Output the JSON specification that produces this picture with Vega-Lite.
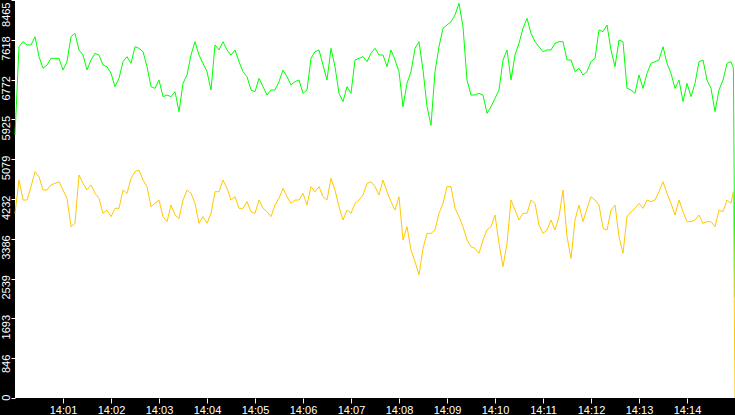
{
  "$schema": "https://vega.github.io/schema/vega-lite/v6.json",
  "width": 720,
  "height": 398,
  "autosize": {"type": "none"},
  "padding": {"left": 15, "top": 0, "right": 0, "bottom": 17},
  "background": "black",
  "config": {
    "view": {"fill": "white", "stroke": null},
    "axis": {
      "title": null,
      "grid": false,
      "domain": false,
      "tickColor": "white",
      "tickWidth": 1,
      "labelColor": "white",
      "labelFont": "Liberation Sans",
      "labelFontSize": 11,
      "labelFlush": false,
      "labelBound": false,
      "labelOverlap": false
    }
  },
  "data": {
    "values": [
      {"t": "2024-01-01T14:00:00", "green": 5600, "yellow": 3927},
      {"t": "2024-01-01T14:00:05", "green": 7472, "yellow": 4636},
      {"t": "2024-01-01T14:00:10", "green": 7579, "yellow": 4211},
      {"t": "2024-01-01T14:00:15", "green": 7508, "yellow": 4211},
      {"t": "2024-01-01T14:00:20", "green": 7508, "yellow": 4495},
      {"t": "2024-01-01T14:00:25", "green": 7685, "yellow": 4814},
      {"t": "2024-01-01T14:00:30", "green": 7260, "yellow": 4707},
      {"t": "2024-01-01T14:00:35", "green": 7012, "yellow": 4424},
      {"t": "2024-01-01T14:00:40", "green": 7082, "yellow": 4424},
      {"t": "2024-01-01T14:00:45", "green": 7224, "yellow": 4530},
      {"t": "2024-01-01T14:00:50", "green": 7224, "yellow": 4566},
      {"t": "2024-01-01T14:00:55", "green": 7224, "yellow": 4601},
      {"t": "2024-01-01T14:01:00", "green": 6976, "yellow": 4424},
      {"t": "2024-01-01T14:01:05", "green": 7153, "yellow": 4246},
      {"t": "2024-01-01T14:01:10", "green": 7685, "yellow": 3644},
      {"t": "2024-01-01T14:01:15", "green": 7756, "yellow": 3715},
      {"t": "2024-01-01T14:01:20", "green": 7402, "yellow": 4743},
      {"t": "2024-01-01T14:01:25", "green": 7295, "yellow": 4566},
      {"t": "2024-01-01T14:01:30", "green": 6976, "yellow": 4424},
      {"t": "2024-01-01T14:01:35", "green": 7189, "yellow": 4530},
      {"t": "2024-01-01T14:01:40", "green": 7331, "yellow": 4353},
      {"t": "2024-01-01T14:01:45", "green": 7295, "yellow": 4246},
      {"t": "2024-01-01T14:01:50", "green": 7082, "yellow": 3927},
      {"t": "2024-01-01T14:01:55", "green": 7047, "yellow": 3998},
      {"t": "2024-01-01T14:02:00", "green": 6905, "yellow": 3857},
      {"t": "2024-01-01T14:02:05", "green": 6622, "yellow": 4034},
      {"t": "2024-01-01T14:02:10", "green": 6799, "yellow": 4034},
      {"t": "2024-01-01T14:02:15", "green": 7153, "yellow": 4424},
      {"t": "2024-01-01T14:02:20", "green": 7260, "yellow": 4353},
      {"t": "2024-01-01T14:02:25", "green": 7118, "yellow": 4672},
      {"t": "2024-01-01T14:02:30", "green": 7472, "yellow": 4814},
      {"t": "2024-01-01T14:02:35", "green": 7437, "yellow": 4849},
      {"t": "2024-01-01T14:02:40", "green": 7366, "yellow": 4636},
      {"t": "2024-01-01T14:02:45", "green": 7047, "yellow": 4495},
      {"t": "2024-01-01T14:02:50", "green": 6622, "yellow": 4069},
      {"t": "2024-01-01T14:02:55", "green": 6586, "yellow": 4140},
      {"t": "2024-01-01T14:03:00", "green": 6763, "yellow": 4211},
      {"t": "2024-01-01T14:03:05", "green": 6409, "yellow": 3857},
      {"t": "2024-01-01T14:03:10", "green": 6444, "yellow": 3750},
      {"t": "2024-01-01T14:03:15", "green": 6409, "yellow": 4105},
      {"t": "2024-01-01T14:03:20", "green": 6515, "yellow": 3892},
      {"t": "2024-01-01T14:03:25", "green": 6090, "yellow": 3821},
      {"t": "2024-01-01T14:03:30", "green": 6692, "yellow": 4211},
      {"t": "2024-01-01T14:03:35", "green": 6870, "yellow": 4424},
      {"t": "2024-01-01T14:03:40", "green": 7295, "yellow": 4353},
      {"t": "2024-01-01T14:03:45", "green": 7579, "yellow": 4140},
      {"t": "2024-01-01T14:03:50", "green": 7295, "yellow": 3715},
      {"t": "2024-01-01T14:03:55", "green": 7118, "yellow": 3857},
      {"t": "2024-01-01T14:04:00", "green": 6941, "yellow": 3715},
      {"t": "2024-01-01T14:04:05", "green": 6551, "yellow": 3927},
      {"t": "2024-01-01T14:04:10", "green": 7508, "yellow": 4388},
      {"t": "2024-01-01T14:04:15", "green": 7402, "yellow": 4388},
      {"t": "2024-01-01T14:04:20", "green": 7579, "yellow": 4636},
      {"t": "2024-01-01T14:04:25", "green": 7402, "yellow": 4459},
      {"t": "2024-01-01T14:04:30", "green": 7295, "yellow": 4211},
      {"t": "2024-01-01T14:04:35", "green": 7402, "yellow": 4282},
      {"t": "2024-01-01T14:04:40", "green": 7153, "yellow": 4034},
      {"t": "2024-01-01T14:04:45", "green": 6941, "yellow": 4034},
      {"t": "2024-01-01T14:04:50", "green": 6834, "yellow": 4176},
      {"t": "2024-01-01T14:04:55", "green": 6551, "yellow": 3963},
      {"t": "2024-01-01T14:05:00", "green": 6515, "yellow": 3927},
      {"t": "2024-01-01T14:05:05", "green": 6799, "yellow": 4211},
      {"t": "2024-01-01T14:05:10", "green": 6622, "yellow": 4034},
      {"t": "2024-01-01T14:05:15", "green": 6444, "yellow": 3963},
      {"t": "2024-01-01T14:05:20", "green": 6551, "yellow": 3857},
      {"t": "2024-01-01T14:05:25", "green": 6551, "yellow": 4105},
      {"t": "2024-01-01T14:05:30", "green": 6728, "yellow": 4246},
      {"t": "2024-01-01T14:05:35", "green": 6976, "yellow": 4459},
      {"t": "2024-01-01T14:05:40", "green": 6834, "yellow": 4282},
      {"t": "2024-01-01T14:05:45", "green": 6657, "yellow": 4140},
      {"t": "2024-01-01T14:05:50", "green": 6728, "yellow": 4211},
      {"t": "2024-01-01T14:05:55", "green": 6763, "yellow": 4211},
      {"t": "2024-01-01T14:06:00", "green": 6480, "yellow": 4353},
      {"t": "2024-01-01T14:06:05", "green": 6551, "yellow": 4105},
      {"t": "2024-01-01T14:06:10", "green": 7224, "yellow": 4495},
      {"t": "2024-01-01T14:06:15", "green": 7366, "yellow": 4388},
      {"t": "2024-01-01T14:06:20", "green": 7402, "yellow": 4495},
      {"t": "2024-01-01T14:06:25", "green": 7082, "yellow": 4282},
      {"t": "2024-01-01T14:06:30", "green": 6763, "yellow": 4211},
      {"t": "2024-01-01T14:06:35", "green": 7437, "yellow": 4672},
      {"t": "2024-01-01T14:06:40", "green": 7047, "yellow": 4424},
      {"t": "2024-01-01T14:06:45", "green": 6480, "yellow": 4069},
      {"t": "2024-01-01T14:06:50", "green": 6303, "yellow": 3786},
      {"t": "2024-01-01T14:06:55", "green": 6622, "yellow": 3998},
      {"t": "2024-01-01T14:07:00", "green": 6480, "yellow": 3927},
      {"t": "2024-01-01T14:07:05", "green": 7189, "yellow": 4140},
      {"t": "2024-01-01T14:07:10", "green": 7224, "yellow": 4211},
      {"t": "2024-01-01T14:07:15", "green": 7260, "yellow": 4317},
      {"t": "2024-01-01T14:07:20", "green": 7153, "yellow": 4566},
      {"t": "2024-01-01T14:07:25", "green": 7331, "yellow": 4601},
      {"t": "2024-01-01T14:07:30", "green": 7437, "yellow": 4495},
      {"t": "2024-01-01T14:07:35", "green": 7295, "yellow": 4317},
      {"t": "2024-01-01T14:07:40", "green": 7295, "yellow": 4636},
      {"t": "2024-01-01T14:07:45", "green": 7047, "yellow": 4388},
      {"t": "2024-01-01T14:07:50", "green": 7402, "yellow": 4176},
      {"t": "2024-01-01T14:07:55", "green": 7189, "yellow": 3998},
      {"t": "2024-01-01T14:08:00", "green": 6941, "yellow": 4282},
      {"t": "2024-01-01T14:08:05", "green": 6196, "yellow": 3360},
      {"t": "2024-01-01T14:08:10", "green": 6692, "yellow": 3644},
      {"t": "2024-01-01T14:08:15", "green": 6941, "yellow": 3148},
      {"t": "2024-01-01T14:08:20", "green": 7437, "yellow": 2900},
      {"t": "2024-01-01T14:08:25", "green": 7579, "yellow": 2620},
      {"t": "2024-01-01T14:08:30", "green": 6976, "yellow": 3183},
      {"t": "2024-01-01T14:08:35", "green": 6200, "yellow": 3502},
      {"t": "2024-01-01T14:08:40", "green": 5800, "yellow": 3502},
      {"t": "2024-01-01T14:08:45", "green": 6941, "yellow": 3573},
      {"t": "2024-01-01T14:08:50", "green": 7472, "yellow": 3927},
      {"t": "2024-01-01T14:08:55", "green": 7862, "yellow": 4140},
      {"t": "2024-01-01T14:09:00", "green": 7933, "yellow": 4495},
      {"t": "2024-01-01T14:09:05", "green": 8004, "yellow": 4495},
      {"t": "2024-01-01T14:09:10", "green": 8146, "yellow": 4034},
      {"t": "2024-01-01T14:09:15", "green": 8394, "yellow": 3857},
      {"t": "2024-01-01T14:09:20", "green": 7898, "yellow": 3644},
      {"t": "2024-01-01T14:09:25", "green": 6763, "yellow": 3360},
      {"t": "2024-01-01T14:09:30", "green": 6444, "yellow": 3218},
      {"t": "2024-01-01T14:09:35", "green": 6444, "yellow": 3183},
      {"t": "2024-01-01T14:09:40", "green": 6480, "yellow": 3077},
      {"t": "2024-01-01T14:09:45", "green": 6444, "yellow": 3360},
      {"t": "2024-01-01T14:09:50", "green": 6054, "yellow": 3573},
      {"t": "2024-01-01T14:09:55", "green": 6196, "yellow": 3644},
      {"t": "2024-01-01T14:10:00", "green": 6373, "yellow": 3892},
      {"t": "2024-01-01T14:10:05", "green": 6551, "yellow": 3289},
      {"t": "2024-01-01T14:10:10", "green": 7189, "yellow": 2793},
      {"t": "2024-01-01T14:10:15", "green": 7402, "yellow": 3289},
      {"t": "2024-01-01T14:10:20", "green": 6763, "yellow": 4211},
      {"t": "2024-01-01T14:10:25", "green": 7295, "yellow": 3998},
      {"t": "2024-01-01T14:10:30", "green": 7543, "yellow": 3786},
      {"t": "2024-01-01T14:10:35", "green": 7862, "yellow": 3927},
      {"t": "2024-01-01T14:10:40", "green": 8075, "yellow": 3927},
      {"t": "2024-01-01T14:10:45", "green": 7756, "yellow": 4211},
      {"t": "2024-01-01T14:10:50", "green": 7579, "yellow": 4140},
      {"t": "2024-01-01T14:10:55", "green": 7472, "yellow": 3679},
      {"t": "2024-01-01T14:11:00", "green": 7366, "yellow": 3502},
      {"t": "2024-01-01T14:11:05", "green": 7402, "yellow": 3573},
      {"t": "2024-01-01T14:11:10", "green": 7402, "yellow": 3786},
      {"t": "2024-01-01T14:11:15", "green": 7543, "yellow": 3573},
      {"t": "2024-01-01T14:11:20", "green": 7579, "yellow": 3857},
      {"t": "2024-01-01T14:11:25", "green": 7579, "yellow": 4424},
      {"t": "2024-01-01T14:11:30", "green": 7189, "yellow": 3431},
      {"t": "2024-01-01T14:11:35", "green": 7189, "yellow": 2970},
      {"t": "2024-01-01T14:11:40", "green": 6941, "yellow": 3786},
      {"t": "2024-01-01T14:11:45", "green": 7012, "yellow": 4105},
      {"t": "2024-01-01T14:11:50", "green": 6870, "yellow": 3750},
      {"t": "2024-01-01T14:11:55", "green": 6941, "yellow": 4034},
      {"t": "2024-01-01T14:12:00", "green": 7153, "yellow": 4282},
      {"t": "2024-01-01T14:12:05", "green": 7224, "yellow": 4211},
      {"t": "2024-01-01T14:12:10", "green": 7827, "yellow": 4105},
      {"t": "2024-01-01T14:12:15", "green": 7792, "yellow": 3608},
      {"t": "2024-01-01T14:12:20", "green": 7933, "yellow": 3573},
      {"t": "2024-01-01T14:12:25", "green": 7402, "yellow": 3998},
      {"t": "2024-01-01T14:12:30", "green": 7047, "yellow": 4105},
      {"t": "2024-01-01T14:12:35", "green": 7614, "yellow": 3431},
      {"t": "2024-01-01T14:12:40", "green": 7579, "yellow": 3077},
      {"t": "2024-01-01T14:12:45", "green": 6586, "yellow": 3857},
      {"t": "2024-01-01T14:12:50", "green": 6551, "yellow": 3963},
      {"t": "2024-01-01T14:12:55", "green": 6480, "yellow": 4034},
      {"t": "2024-01-01T14:13:00", "green": 6870, "yellow": 4140},
      {"t": "2024-01-01T14:13:05", "green": 6586, "yellow": 4034},
      {"t": "2024-01-01T14:13:10", "green": 6905, "yellow": 4211},
      {"t": "2024-01-01T14:13:15", "green": 7118, "yellow": 4176},
      {"t": "2024-01-01T14:13:20", "green": 7153, "yellow": 4211},
      {"t": "2024-01-01T14:13:25", "green": 7189, "yellow": 4388},
      {"t": "2024-01-01T14:13:30", "green": 7472, "yellow": 4601},
      {"t": "2024-01-01T14:13:35", "green": 7118, "yellow": 4353},
      {"t": "2024-01-01T14:13:40", "green": 6905, "yellow": 4140},
      {"t": "2024-01-01T14:13:45", "green": 6586, "yellow": 3892},
      {"t": "2024-01-01T14:13:50", "green": 6763, "yellow": 4211},
      {"t": "2024-01-01T14:13:55", "green": 6303, "yellow": 3963},
      {"t": "2024-01-01T14:14:00", "green": 6692, "yellow": 3750},
      {"t": "2024-01-01T14:14:05", "green": 6409, "yellow": 3750},
      {"t": "2024-01-01T14:14:10", "green": 6692, "yellow": 3786},
      {"t": "2024-01-01T14:14:15", "green": 7153, "yellow": 3892},
      {"t": "2024-01-01T14:14:20", "green": 7189, "yellow": 3715},
      {"t": "2024-01-01T14:14:25", "green": 6763, "yellow": 3750},
      {"t": "2024-01-01T14:14:30", "green": 6586, "yellow": 3750},
      {"t": "2024-01-01T14:14:35", "green": 6090, "yellow": 3644},
      {"t": "2024-01-01T14:14:40", "green": 6551, "yellow": 3998},
      {"t": "2024-01-01T14:14:45", "green": 6763, "yellow": 3963},
      {"t": "2024-01-01T14:14:50", "green": 7118, "yellow": 4211},
      {"t": "2024-01-01T14:14:55", "green": 7153, "yellow": 4140},
      {"t": "2024-01-01T14:14:58", "green": 7012, "yellow": 4388},
      {"t": "2024-01-01T14:15:00", "green": 2150, "yellow": 0}
    ]
  },
  "transform": [
    {"fold": ["green", "yellow"], "as": ["series", "value"]}
  ],
  "mark": {"type": "line", "strokeWidth": 1},
  "encoding": {
    "x": {
      "field": "t",
      "type": "temporal",
      "scale": {
        "domain": [
          {"year": 2024, "month": 1, "date": 1, "hours": 14, "minutes": 0},
          {"year": 2024, "month": 1, "date": 1, "hours": 14, "minutes": 15}
        ]
      },
      "axis": {
        "values": [
          {"year": 2024, "month": 1, "date": 1, "hours": 14, "minutes": 1},
          {"year": 2024, "month": 1, "date": 1, "hours": 14, "minutes": 2},
          {"year": 2024, "month": 1, "date": 1, "hours": 14, "minutes": 3},
          {"year": 2024, "month": 1, "date": 1, "hours": 14, "minutes": 4},
          {"year": 2024, "month": 1, "date": 1, "hours": 14, "minutes": 5},
          {"year": 2024, "month": 1, "date": 1, "hours": 14, "minutes": 6},
          {"year": 2024, "month": 1, "date": 1, "hours": 14, "minutes": 7},
          {"year": 2024, "month": 1, "date": 1, "hours": 14, "minutes": 8},
          {"year": 2024, "month": 1, "date": 1, "hours": 14, "minutes": 9},
          {"year": 2024, "month": 1, "date": 1, "hours": 14, "minutes": 10},
          {"year": 2024, "month": 1, "date": 1, "hours": 14, "minutes": 11},
          {"year": 2024, "month": 1, "date": 1, "hours": 14, "minutes": 12},
          {"year": 2024, "month": 1, "date": 1, "hours": 14, "minutes": 13},
          {"year": 2024, "month": 1, "date": 1, "hours": 14, "minutes": 14}
        ],
        "format": "%H:%M",
        "tickSize": 5,
        "labelPadding": 1.5
      }
    },
    "y": {
      "field": "value",
      "type": "quantitative",
      "scale": {"domain": [0, 8465], "nice": false, "zero": true},
      "axis": {
        "values": [0, 846, 1693, 2539, 3386, 4232, 5079, 5925, 6772, 7618, 8465],
        "format": "d",
        "tickSize": 4,
        "labelAngle": 270,
        "labelAlign": "right",
        "labelBaseline": "alphabetic",
        "labelPadding": 1.7,
        "labelOverlap": false,
        "labelOffset": {"condition": {"test": "datum.value == 8465", "value": 2}, "value": -4}
      }
    },
    "color": {
      "field": "series",
      "type": "nominal",
      "scale": {"domain": ["green", "yellow"], "range": ["#00ff00", "#ffc800"]},
      "legend": null
    }
  }
}
